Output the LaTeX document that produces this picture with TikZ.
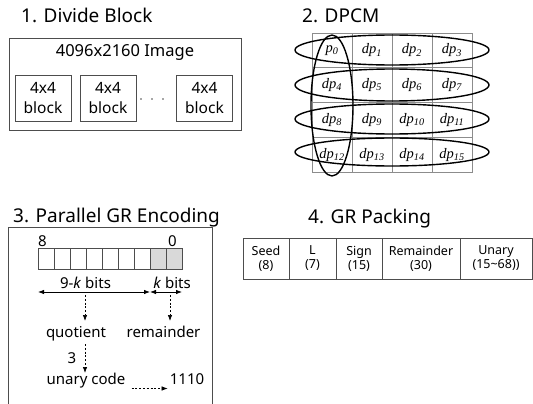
\documentclass[tikz,border=0pt]{standalone}
\usepackage{fontspec}
\setmainfont{Noto Sans}
\newfontfamily\dpfont{Liberation Serif}
\usetikzlibrary{arrows.meta, positioning}
\definecolor{framegray}{HTML}{4D4D4D}
\definecolor{gridgray}{HTML}{8C8C8C}
\definecolor{bitgray}{HTML}{D9D9D9}

\tikzset{
  paneltitle/.style={anchor=base west, inner sep=0pt, font=\fontsize{19}{22}\selectfont},
  blockbox/.style={draw=framegray, line width=0.9pt, minimum width=56pt, minimum height=46pt,
    align=center, inner sep=0pt, font=\fontsize{15.5}{20}\selectfont},
  dpcell/.style={draw=gridgray, line width=1pt, minimum width=40pt, minimum height=34.75pt,
    inner sep=0pt, font=\dpfont\itshape\fontsize{14.5}{16}\selectfont},
  bitcell/.style={draw=framegray, line width=0.9pt, minimum width=16pt, minimum height=21pt, inner sep=0pt},
  bittext/.style={anchor=base, inner sep=0pt, font=\fontsize{15}{18}\selectfont},
  packcell/.style={draw=framegray, line width=0.9pt, minimum height=41pt, outer sep=0pt,
    align=center, inner sep=0pt, font=\fontsize{12.5}{14}\selectfont},
  bitspan/.style={line width=0.8pt, {Latex[length=6pt,width=4.5pt]}-{Latex[length=6pt,width=4.5pt]}},
  dasharrow/.style={line width=0.7pt, dash pattern=on 2pt off 1.8pt, -{Latex[length=6pt,width=4.5pt]}},
}

\begin{document}
\begin{tikzpicture}[x=1pt, y=-1pt]
\useasboundingbox (0,0) rectangle (533,404);

% 1. Divide Block
\node[paneltitle] (title1) at (21,23) {1. Divide Block};
\draw[framegray, line width=0.9pt] (9,38) rectangle (241,130);
\node[anchor=base, inner sep=0pt, font=\fontsize{16.5}{20}\selectfont] (image) at (125,57) {4096x2160 Image};
\node[blockbox] (blk1) at (43,98) {4x4\\block};
\node[blockbox] (blk2) at (108,98) {4x4\\block};
\node[blockbox] (blk3) at (204.5,98) {4x4\\block};
\foreach \x in {141,152,163}
  \fill[framegray] (\x,99) circle (0.9);

% 2. DPCM
\node[paneltitle] (title2) at (302,23) {2. DPCM};
\foreach \r in {0,...,3}
  \foreach \c in {0,...,3} {
    \pgfmathtruncatemacro{\idx}{4*\r+\c}
    \node[dpcell] (dp\idx) at (332+40*\c, 50.5+34.75*\r)
      {\ifnum\idx=0 p\textsubscript{0}\else dp\textsubscript{\idx}\fi};
  }
\draw[line width=1.4pt] (392,50) ellipse (97 and 15);
\draw[line width=1.4pt] (392,85) ellipse (97 and 16);
\draw[line width=1.4pt] (392,119) ellipse (97 and 15);
\draw[line width=1.4pt] (392,152) ellipse (97 and 14);
\draw[line width=1.4pt] (332,105.5) ellipse (21 and 70.5);

% 3. Parallel GR Encoding
\node[paneltitle] (title3) at (13,222) {3. Parallel GR Encoding};
\draw[framegray, line width=0.9pt] (8,405) -- (8,227) -- (212,227) -- (212,405);
\foreach \i in {0,...,6}
  \node[bitcell] (bit\i) at (46+16*\i,258.5) {};
\node[bitcell, fill=bitgray] (bit7) at (158,258.5) {};
\node[bitcell, fill=bitgray] (bit8) at (174,258.5) {};
\node[bittext] (msb) at (42.5,246) {8};
\node[bittext] (lsb) at (172.5,246) {0};
\coordinate (spanL) at (38,292);
\coordinate (spanM) at (150,292);
\coordinate (spanR) at (182,292);
\draw[bitspan] (spanL) -- (spanM);
\draw[bitspan] (spanM) -- (spanR);
\node[bittext] (hibits) at (85.5,288) {9-\textit{k} bits};
\node[bittext] (lobits) at (172,288) {\textit{k} bits};
\node[bittext] (quot) at (76,337) {quotient};
\node[bittext] (rem) at (163.5,337) {remainder};
\node[bittext] (three) at (72,363) {3};
\node[bittext] (unary) at (86,384) {unary code};
\node[bittext] (code) at (187,384) {1110};
\coordinate (quotA) at (85,295);
\coordinate (quotB) at (85,321);
\coordinate (remA) at (170,295);
\coordinate (remB) at (170,321);
\coordinate (unaA) at (85,344);
\coordinate (unaB) at (85,373);
\draw[dasharrow] (quotA) -- (quotB);
\draw[dasharrow] (remA) -- (remB);
\draw[dasharrow] (unaA) -- (unaB);
\draw[dasharrow] ([xshift=6pt,yshift=-4.5pt]unary.base east) -- ([xshift=-2pt,yshift=-4.5pt]code.base west);

% 4. GR Packing
\node[paneltitle] (title4) at (308,223) {4. GR Packing};
\node[packcell, minimum width=46pt] (seed) at (266,258.5) {Seed\\(8)};
\node[packcell, minimum width=47pt, right=0pt of seed] (len) {L\\(7)};
\node[packcell, minimum width=46pt, right=0pt of len] (sign) {Sign\\(15)};
\node[packcell, minimum width=78pt, right=0pt of sign] (remd) {Remainder\\(30)};
\node[packcell, minimum width=72pt, right=0pt of remd] (unry) {Unary\\(15\textasciitilde 68))};
\end{tikzpicture}
\end{document}
